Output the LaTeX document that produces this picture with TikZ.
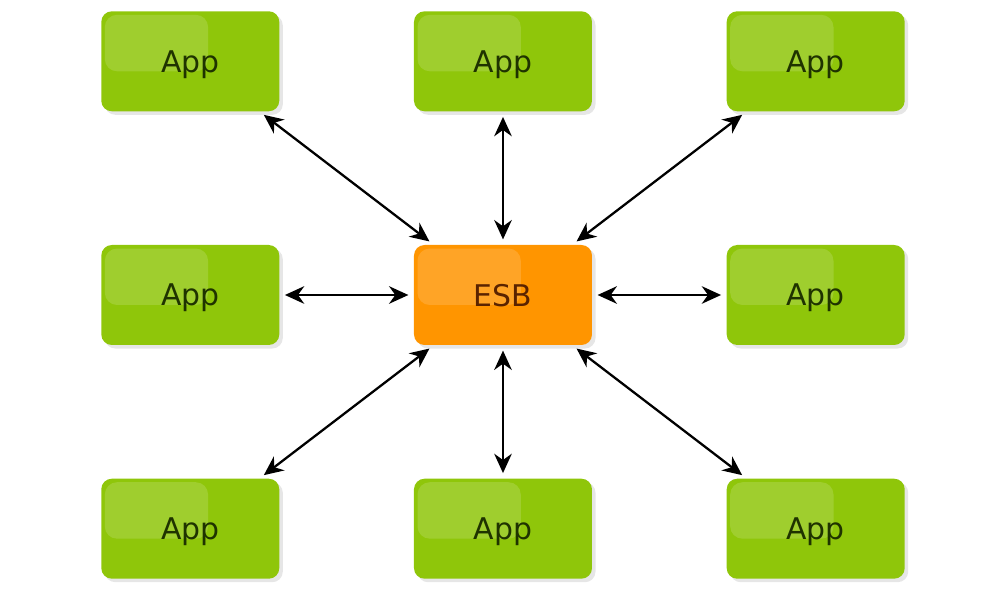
\documentclass[tikz,border=0pt]{standalone}
\usepackage{fontspec}
\setmainfont{DejaVu Sans}
\usetikzlibrary{arrows.meta,positioning,calc,shadows}
\definecolor{appgreen}{HTML}{8FC60A}
\definecolor{apptext}{HTML}{1F3300}
\definecolor{esborange}{HTML}{FF9500}
\definecolor{esbtext}{HTML}{5A2300}

\begin{document}
\begin{tikzpicture}[
  gloss/.style={path picture={\fill[white,opacity=0.15,rounded corners=7pt]
    ([shift={(2pt,-2pt)}]path picture bounding box.north west) rectangle
    ($(path picture bounding box.north west)!0.6!(path picture bounding box.south east)$);}},
  app/.style={fill=appgreen,text=apptext,rounded corners=6pt,minimum width=3.56cm,minimum height=2cm,
    font=\fontsize{17}{19}\selectfont,text depth=0pt,gloss,
    drop shadow={shadow xshift=2pt,shadow yshift=-2pt,opacity=0.2}},
  esb/.style={app,fill=esborange,text=esbtext},
  link/.style={{Stealth[length=11pt,width=10pt]}-{Stealth[length=11pt,width=10pt]},line width=1.3pt,shorten >=3pt,shorten <=3pt},
  node distance=2.66cm and 2.68cm]
  \useasboundingbox (-10.06,5.90) rectangle (9.62,-6.08);
  \node[esb] (esb) at (0,0) {ESB};
  \node[app,above=of esb] (appn) {App};
  \node[app,below=of esb] (apps) {App};
  \node[app,left=of esb] (appw) {App};
  \node[app,right=of esb] (appe) {App};
  \node[app,above left=of esb] (appnw) {App};
  \node[app,above right=of esb] (appne) {App};
  \node[app,below left=of esb] (appsw) {App};
  \node[app,below right=of esb] (appse) {App};

  \draw[link] (appn) -- (esb);
  \draw[link] (apps) -- (esb);
  \draw[link] (appw) -- (esb);
  \draw[link] (appe) -- (esb);
  \draw[link] ([xshift=-0.4cm]appnw.south east) -- ([xshift=0.4cm]esb.north west);
  \draw[link] ([xshift=0.4cm]appne.south west) -- ([xshift=-0.4cm]esb.north east);
  \draw[link] ([xshift=-0.4cm]appsw.north east) -- ([xshift=0.4cm]esb.south west);
  \draw[link] ([xshift=0.4cm]appse.north west) -- ([xshift=-0.4cm]esb.south east);
\end{tikzpicture}
\end{document}
